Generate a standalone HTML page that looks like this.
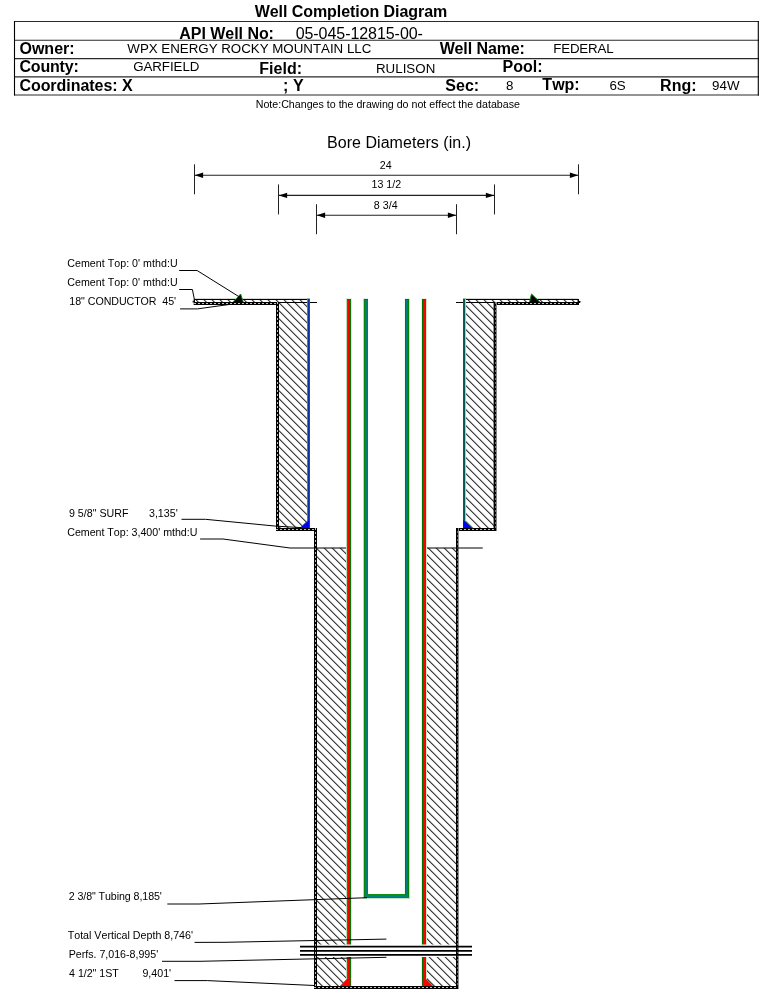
<!DOCTYPE html><html><head><meta charset="utf-8"><title>Well Completion Diagram</title>
<style>html,body{margin:0;padding:0;background:#fff;width:759px;height:989px;overflow:hidden}svg{display:block;font-family:"Liberation Sans", sans-serif;will-change:transform}</style></head><body>
<svg width="759" height="989" viewBox="0 0 759 989">
<defs><pattern id="h" patternUnits="userSpaceOnUse" x="0.3" y="0" width="8" height="8"><path d="M-2,-2 L10,10 M-2,6 L2,10 M6,-2 L10,2" stroke="#000" stroke-width="1" shape-rendering="crispEdges"/><path d="M-2,-2 L10,10 M-2,6 L2,10 M6,-2 L10,2" stroke="#000" stroke-width="1.2" stroke-opacity="0.45"/></pattern></defs>
<rect width="759" height="989" fill="#fff"/>
<text x="254.65 269.66 278.50 282.92 287.34 291.75 303.24 312.95 327.09 336.80 341.22 350.06 355.35 359.77 369.48 379.20 383.61 395.10 399.52 408.36 418.07 424.26 433.10" y="16.8" font-size="16" font-weight="bold" fill="#000" xml:space="preserve">Well Completion Diagram</text>
<line x1="14" y1="21.5" x2="759" y2="21.5" stroke="#2a2a2a" stroke-width="1.15"/>
<line x1="14" y1="40.2" x2="759" y2="40.2" stroke="#2a2a2a" stroke-width="1.15"/>
<line x1="14" y1="58.6" x2="759" y2="58.6" stroke="#2a2a2a" stroke-width="1.15"/>
<line x1="14" y1="76.8" x2="759" y2="76.8" stroke="#2a2a2a" stroke-width="1.15"/>
<line x1="14" y1="95.0" x2="759" y2="95.0" stroke="#2a2a2a" stroke-width="1.15"/>
<line x1="14.5" y1="21" x2="14.5" y2="95.5" stroke="#000" stroke-width="1.1"/>
<line x1="758.3" y1="21" x2="758.3" y2="95.5" stroke="#000" stroke-width="1.1"/>
<text x="179.33 190.82 201.43 205.85 210.27 225.28 234.13 238.55 242.97 247.39 258.88 268.59" y="38.6" font-size="16" font-weight="bold" fill="#000" xml:space="preserve">API Well No:</text>
<text x="295.65 304.49 313.33 318.62 327.46 336.30 345.14 350.43 359.27 368.11 376.94 385.78 394.62 399.91 408.75 417.59" y="38.6" font-size="16" fill="#000" xml:space="preserve">05-045-12815-00-</text>
<text x="19.48 31.93 44.37 54.14 63.04 69.27" y="53.6" font-size="16" font-weight="bold" fill="#000" xml:space="preserve">Owner:</text>
<text x="127.35 139.91 148.78 157.66 161.36 170.23 179.84 188.71 198.32 208.67 217.55 221.24 230.85 241.20 250.81 259.69 268.56 272.26 283.34 293.69 303.30 312.91 321.04 329.91 333.61 343.22 346.91 354.31 361.71" y="52.5" font-size="13.33" fill="#000" xml:space="preserve">WPX ENERGY ROCKY MOUNTAIN LLC</text>
<text x="439.65 454.55 463.33 467.72 472.11 476.49 487.89 496.68 510.71 519.50" y="53.6" font-size="16" font-weight="bold" fill="#000" xml:space="preserve">Well Name:</text>
<text x="553.13 561.14 569.89 579.36 588.10 597.57 606.32" y="52.5" font-size="13.33" fill="#000" xml:space="preserve">FEDERAL</text>
<text x="19.39 30.76 40.38 50.00 59.62 64.87 73.62" y="72" font-size="16" font-weight="bold" fill="#000" xml:space="preserve">County:</text>
<text x="133.14 143.44 152.28 161.85 169.94 173.62 182.46 189.83" y="71.4" font-size="13.33" fill="#000" xml:space="preserve">GARFIELD</text>
<text x="259.33 269.10 273.55 282.45 286.89 296.67" y="73.8" font-size="16" font-weight="bold" fill="#000" xml:space="preserve">Field:</text>
<text x="375.89 385.55 395.21 402.65 406.37 415.29 425.69" y="73" font-size="13.33" fill="#000" xml:space="preserve">RULISON</text>
<text x="502.50 513.17 522.95 532.72 537.16" y="72.2" font-size="16" font-weight="bold" fill="#000" xml:space="preserve">Pool:</text>
<text x="19.39 30.89 40.63 50.36 56.56 66.29 70.71 80.45 89.31 94.61 103.47 112.33 117.64 122.06" y="90.5" font-size="16" font-weight="bold" fill="#000" xml:space="preserve">Coordinates: X</text>
<text x="283.12 288.45 292.89" y="90.5" font-size="16" font-weight="bold" fill="#000" xml:space="preserve">; Y</text>
<text x="445.36 456.03 464.93 473.83" y="90.5" font-size="16" font-weight="bold" fill="#000" xml:space="preserve">Sec:</text>
<text x="506.05" y="89.5" font-size="13.33" fill="#000" xml:space="preserve">8</text>
<text x="542.37 552.14 564.59 574.36" y="90.3" font-size="16" font-weight="bold" fill="#000" xml:space="preserve">Twp:</text>
<text x="609.40 616.81" y="89.5" font-size="13.33" fill="#000" xml:space="preserve">6S</text>
<text x="660.09 671.64 681.42 691.19" y="90.5" font-size="16" font-weight="bold" fill="#000" xml:space="preserve">Rng:</text>
<text x="712.08 719.49 726.91" y="89.5" font-size="13.33" fill="#000" xml:space="preserve">94W</text>
<text x="255.70 263.40 269.32 272.28 278.21 281.17 288.87 294.79 300.72 306.65 312.57 318.50 323.83 326.79 329.75 335.68 338.64 341.60 347.52 353.45 356.41 362.34 365.89 371.81 379.51 381.88 387.80 393.73 396.69 402.62 408.54 411.50 417.43 423.36 426.32 429.28 435.20 438.17 441.13 447.05 452.38 455.34 458.30 461.26 467.19 473.12 476.08 482.00 487.93 490.89 496.82 502.74 508.67 514.00" y="108.4" font-size="10.67" fill="#000" xml:space="preserve">Note:Changes to the drawing do not effect the database</text>
<text x="327.00 337.74 346.69 352.05 361.00 365.47 377.10 380.67 389.62 403.03 411.98 416.46 425.41 430.77 438.82 443.29 448.65 452.22 461.18 465.65" y="147.5" font-size="16" fill="#000" xml:space="preserve">Bore Diameters (in.)</text>
<text x="379.74 385.67" y="169.1" font-size="10.67" fill="#000" xml:space="preserve">24</text>
<text x="371.52 377.45 383.39 386.35 392.28 395.25" y="188.3" font-size="10.67" fill="#000" xml:space="preserve">13 1/2</text>
<text x="373.86 379.80 382.76 388.70 391.66" y="209.2" font-size="10.67" fill="#000" xml:space="preserve">8 3/4</text>
<line x1="194.5" y1="164.3" x2="194.5" y2="194.3" stroke="#222" stroke-width="1.05"/>
<line x1="578.5" y1="164.3" x2="578.5" y2="194.3" stroke="#222" stroke-width="1.05"/>
<line x1="194.5" y1="175.3" x2="578.5" y2="175.3" stroke="#222" stroke-width="1.1"/>
<polygon points="194.8,175.3 203.1,172.60000000000002 203.1,178.0" fill="#000" stroke="none" stroke-width="1"/>
<polygon points="578.2,175.3 569.9,172.60000000000002 569.9,178.0" fill="#000" stroke="none" stroke-width="1"/>
<line x1="278.5" y1="184.4" x2="278.5" y2="214.4" stroke="#222" stroke-width="1.05"/>
<line x1="494.5" y1="184.4" x2="494.5" y2="214.4" stroke="#222" stroke-width="1.05"/>
<line x1="278.5" y1="195.4" x2="494.5" y2="195.4" stroke="#222" stroke-width="1.1"/>
<polygon points="278.8,195.4 287.1,192.70000000000002 287.1,198.1" fill="#000" stroke="none" stroke-width="1"/>
<polygon points="494.2,195.4 485.9,192.70000000000002 485.9,198.1" fill="#000" stroke="none" stroke-width="1"/>
<line x1="316.5" y1="204.2" x2="316.5" y2="234.2" stroke="#222" stroke-width="1.05"/>
<line x1="456.5" y1="204.2" x2="456.5" y2="234.2" stroke="#222" stroke-width="1.05"/>
<line x1="316.5" y1="215.2" x2="456.5" y2="215.2" stroke="#222" stroke-width="1.1"/>
<polygon points="316.8,215.2 325.1,212.5 325.1,217.89999999999998" fill="#000" stroke="none" stroke-width="1"/>
<polygon points="456.2,215.2 447.9,212.5 447.9,217.89999999999998" fill="#000" stroke="none" stroke-width="1"/>
<rect x="194" y="300" width="113" height="2" fill="url(#h)"/>
<rect x="466" y="300" width="112" height="2" fill="url(#h)"/>
<rect x="279" y="303" width="28" height="225" fill="url(#h)"/>
<rect x="466" y="303" width="28" height="225" fill="url(#h)"/>
<rect x="317" y="548" width="30" height="396.5" fill="url(#h)"/>
<rect x="317" y="957" width="30" height="29" fill="url(#h)"/>
<rect x="426" y="548" width="30" height="396.5" fill="url(#h)"/>
<rect x="426" y="957" width="30" height="29" fill="url(#h)"/>
<rect x="194" y="298" width="113" height="1" fill="#d8d8d8"/>
<rect x="466" y="298" width="112" height="1" fill="#d8d8d8"/>
<rect x="194" y="299" width="113" height="1" fill="#000"/>
<rect x="466" y="299" width="113" height="1" fill="#000"/>
<rect x="194" y="302" width="123" height="1" fill="#000"/>
<rect x="456" y="302" width="124" height="1" fill="#000"/>
<rect x="193.7" y="299" width="1.3" height="6" fill="#000"/>
<rect x="577.5" y="299" width="1.5" height="6" fill="#000"/>
<rect x="192.6" y="300.8" width="1.2" height="1.6" fill="#000"/>
<rect x="579" y="301" width="1.5" height="1.5" fill="#000"/>
<rect x="194" y="302" width="85" height="3" fill="#000"/>
<line x1="194" y1="303.5" x2="279" y2="303.5" stroke="#c0c0c0" stroke-width="1" stroke-dasharray="2 2" stroke-dashoffset="0" shape-rendering="crispEdges"/>
<rect x="494" y="302" width="84" height="3" fill="#000"/>
<line x1="494" y1="303.5" x2="578" y2="303.5" stroke="#c0c0c0" stroke-width="1" stroke-dasharray="2 2" stroke-dashoffset="0" shape-rendering="crispEdges"/>
<rect x="276" y="302" width="3" height="229" fill="#000"/>
<line x1="277.5" y1="302" x2="277.5" y2="531" stroke="#c0c0c0" stroke-width="1" stroke-dasharray="2 2" stroke-dashoffset="0" shape-rendering="crispEdges"/>
<rect x="276" y="528" width="41" height="3" fill="#000"/>
<line x1="276" y1="529.5" x2="317" y2="529.5" stroke="#c0c0c0" stroke-width="1" stroke-dasharray="2 2" stroke-dashoffset="0" shape-rendering="crispEdges"/>
<rect x="493" y="302" width="1" height="229" fill="#000" fill-opacity="0.4"/>
<rect x="494" y="302" width="2" height="229" fill="#000"/>
<line x1="495.5" y1="302" x2="495.5" y2="528" stroke="#707070" stroke-width="1" stroke-dasharray="2 2" stroke-dashoffset="0" shape-rendering="crispEdges"/>
<rect x="496" y="302" width="1" height="229" fill="#858585"/>
<rect x="456" y="528" width="40" height="3" fill="#000"/>
<line x1="456" y1="529.5" x2="496" y2="529.5" stroke="#c0c0c0" stroke-width="1" stroke-dasharray="2 2" stroke-dashoffset="0" shape-rendering="crispEdges"/>
<rect x="314" y="528" width="3" height="461" fill="#000"/>
<line x1="315.5" y1="528" x2="315.5" y2="989" stroke="#c0c0c0" stroke-width="1" stroke-dasharray="2 2" stroke-dashoffset="0" shape-rendering="crispEdges"/>
<rect x="314" y="986" width="145" height="3" fill="#000"/>
<line x1="314" y1="987.5" x2="459" y2="987.5" stroke="#c0c0c0" stroke-width="1" stroke-dasharray="2 2" stroke-dashoffset="0" shape-rendering="crispEdges"/>
<rect x="456" y="528" width="2" height="461" fill="#000"/>
<line x1="457.5" y1="531" x2="457.5" y2="986" stroke="#606060" stroke-width="1" stroke-dasharray="2 2" stroke-dashoffset="0" shape-rendering="crispEdges"/>
<rect x="458" y="528" width="1" height="461" fill="#909090"/>
<line x1="290" y1="548" x2="346" y2="548" stroke="#000" stroke-width="1.15"/>
<line x1="427" y1="548" x2="482.3" y2="548" stroke="#000" stroke-width="1.15" stroke-linecap="round"/>
<rect x="307" y="299" width="1" height="229" fill="#3a9a3a"/>
<rect x="308" y="299" width="1" height="229" fill="#0a30a0"/>
<rect x="309" y="299" width="1" height="229" fill="#007a10"/>
<rect x="307" y="298" width="3" height="1" fill="#8cc48c"/>
<rect x="463" y="299" width="1" height="229" fill="#007010"/>
<rect x="464" y="299" width="1" height="229" fill="#005858"/>
<rect x="465" y="299" width="1" height="229" fill="#a0d8a0"/>
<rect x="463" y="298" width="3" height="1" fill="#8cc48c"/>
<polygon points="308.0,520.6 309.3,520.6 309.3,528 299.8,528" fill="#0000ff" stroke="none" stroke-width="1"/>
<line x1="308.0" y1="520.6" x2="299.8" y2="528" stroke="#2a9a2a" stroke-width="0.8"/>
<polygon points="463.2,520.6 464.6,520.6 472.6,528 463.2,528" fill="#0000ff" stroke="none" stroke-width="1"/>
<line x1="464.6" y1="520.6" x2="472.6" y2="528" stroke="#2a9a2a" stroke-width="0.8"/>
<rect x="346" y="299" width="1" height="645.5" fill="#b4deb4"/>
<rect x="347" y="299" width="1" height="645.5" fill="#6a5a10"/>
<rect x="348" y="299" width="1" height="645.5" fill="#ff0000"/>
<rect x="349" y="299" width="1" height="645.5" fill="#f20000"/>
<rect x="350" y="299" width="1" height="645.5" fill="#007a00"/>
<rect x="351" y="299" width="1" height="645.5" fill="#dcf0dc"/>
<rect x="347" y="299" width="4" height="1" fill="#007800"/>
<rect x="421" y="299" width="1" height="645.5" fill="#e8f0e8"/>
<rect x="422" y="299" width="1" height="645.5" fill="#007000"/>
<rect x="423" y="299" width="1" height="645.5" fill="#ff0000"/>
<rect x="424" y="299" width="1" height="645.5" fill="#ff0000"/>
<rect x="425" y="299" width="1" height="645.5" fill="#008000"/>
<rect x="426" y="299" width="1" height="645.5" fill="#c4e8c4"/>
<rect x="422" y="299" width="4" height="1" fill="#007800"/>
<rect x="346" y="298" width="6" height="1" fill="#e4f2e4"/>
<rect x="421" y="298" width="6" height="1" fill="#e4f2e4"/>
<rect x="346" y="957" width="1" height="29" fill="#b4deb4"/>
<rect x="347" y="957" width="1" height="29" fill="#6a5a10"/>
<rect x="348" y="957" width="1" height="29" fill="#ff0000"/>
<rect x="349" y="957" width="1" height="29" fill="#f20000"/>
<rect x="350" y="957" width="1" height="29" fill="#007a00"/>
<rect x="351" y="957" width="1" height="29" fill="#dcf0dc"/>
<rect x="421" y="957" width="1" height="29" fill="#e8f0e8"/>
<rect x="422" y="957" width="1" height="29" fill="#007000"/>
<rect x="423" y="957" width="1" height="29" fill="#ff0000"/>
<rect x="424" y="957" width="1" height="29" fill="#ff0000"/>
<rect x="425" y="957" width="1" height="29" fill="#008000"/>
<rect x="426" y="957" width="1" height="29" fill="#c4e8c4"/>
<polygon points="347.6,978.3 350.2,978.3 350.2,986 340.3,986" fill="#ff0000" stroke="none" stroke-width="1"/>
<line x1="347.6" y1="978.3" x2="340.3" y2="986" stroke="#2a9a2a" stroke-width="0.8"/>
<polygon points="422.8,978.6 425.4,978.6 432.8,986 422.8,986" fill="#ff0000" stroke="none" stroke-width="1"/>
<line x1="425.4" y1="978.6" x2="432.8" y2="986" stroke="#2a9a2a" stroke-width="0.8"/>
<rect x="363" y="299" width="1" height="599" fill="#b0dcb0"/>
<rect x="364" y="299" width="1" height="599" fill="#108010"/>
<rect x="365" y="299" width="1" height="599" fill="#008080"/>
<rect x="366" y="299" width="1" height="599" fill="#007f70"/>
<rect x="367" y="299" width="1" height="599" fill="#108810"/>
<rect x="404" y="299" width="1" height="599" fill="#f0f8f0"/>
<rect x="405" y="299" width="1" height="599" fill="#008000"/>
<rect x="406" y="299" width="1" height="599" fill="#008080"/>
<rect x="407" y="299" width="1" height="599" fill="#007a80"/>
<rect x="408" y="299" width="1" height="599" fill="#008000"/>
<rect x="409" y="299" width="1" height="599" fill="#c0e0c0"/>
<rect x="363" y="298" width="5" height="1" fill="#e0f0e0"/>
<rect x="405" y="298" width="4" height="1" fill="#e0f0e0"/>
<rect x="364" y="299" width="4" height="1" fill="#007800"/>
<rect x="405" y="299" width="4" height="1" fill="#007800"/>
<rect x="367" y="894" width="38" height="1" fill="#109010"/>
<rect x="365" y="895" width="43" height="2" fill="#008080"/>
<rect x="364" y="897" width="45" height="1" fill="#108810"/>
<rect x="363" y="898" width="47" height="1" fill="#c0e4c0"/>
<line x1="300" y1="946.6" x2="472" y2="946.6" stroke="#000" stroke-width="1.8"/>
<line x1="300" y1="950.8" x2="472" y2="950.8" stroke="#000" stroke-width="1.8"/>
<line x1="300" y1="954.8" x2="472" y2="954.8" stroke="#000" stroke-width="1.8"/>
<polygon points="240.6,294.0 243.2,302 233.2,302" fill="#000" stroke="none" stroke-width="1"/>
<polyline points="233.2,302 240.6,294.0 243.2,302" fill="none" stroke="#0a7f0a" stroke-width="1.0"/>
<polygon points="531.5,294.0 539.8,302 529.6,302" fill="#000" stroke="none" stroke-width="1"/>
<polyline points="529.6,302 531.5,294.0 539.8,302" fill="none" stroke="#0a7f0a" stroke-width="1.0"/>
<text x="67.22 74.96 80.91 89.84 95.80 101.75 104.73 107.71 114.25 120.21 126.17 129.14 132.12 138.08 140.12 143.10 152.02 155.00 160.96 166.91 169.89" y="266.6" font-size="10.67" fill="#000" xml:space="preserve">Cement Top: 0' mthd:U</text>
<text x="67.22 74.96 80.91 89.84 95.80 101.75 104.73 107.71 114.25 120.21 126.17 129.14 132.12 138.08 140.12 143.10 152.02 155.00 160.96 166.91 169.89" y="285.6" font-size="10.67" fill="#000" xml:space="preserve">Cement Top: 0' mthd:U</text>
<text x="69.35 75.23 81.10 84.85 87.79 95.42 103.64 111.27 118.90 126.53 134.16 140.61 148.83 156.46 159.39 162.33 168.21 174.08" y="304.8" font-size="10.67" fill="#000" xml:space="preserve">18&quot; CONDUCTOR  45'</text>
<text x="68.96 74.89 77.85 83.78 86.75 92.68 96.46 99.43 106.54 114.24 121.94" y="516.6" font-size="10.67" fill="#000" xml:space="preserve">9 5/8&quot; SURF</text>
<text x="148.95 154.88 157.85 163.78 169.72 175.65" y="516.6" font-size="10.67" fill="#000" xml:space="preserve">3,135'</text>
<text x="67.22 74.89 80.80 89.65 95.56 101.47 104.42 107.37 113.86 119.77 125.68 128.63 131.58 137.49 140.45 146.35 152.26 158.17 160.20 163.15 172.00 174.95 180.86 186.77 189.72" y="535.6" font-size="10.67" fill="#000" xml:space="preserve">Cement Top: 3,400' mthd:U</text>
<text x="68.65 74.48 77.40 83.23 86.14 91.98 95.70 98.61 105.02 110.85 116.69 119.02 124.85 130.68 133.60 139.43 142.34 148.18 154.01 159.84" y="900.1" font-size="10.67" fill="#000" xml:space="preserve">2 3/8&quot; Tubing 8,185'</text>
<text x="67.69 74.20 80.13 83.10 89.03 91.39 94.36 101.47 107.40 110.95 113.91 116.28 121.61 127.54 129.91 132.87 140.57 146.50 152.43 155.40 161.33 164.29 170.22 173.18 179.11 185.04 190.97" y="938.7" font-size="10.67" fill="#000" xml:space="preserve">Total Vertical Depth 8,746'</text>
<text x="68.67 75.76 81.68 85.22 88.18 93.49 96.45 99.40 105.32 108.27 114.19 120.10 126.02 129.56 135.47 138.43 144.34 150.26 156.17" y="957.8" font-size="10.67" fill="#000" xml:space="preserve">Perfs. 7,016-8,995'</text>
<text x="69.10 74.98 77.91 83.79 86.73 92.61 96.36 99.29 105.17 112.22" y="976.9" font-size="10.67" fill="#000" xml:space="preserve">4 1/2&quot; 1ST</text>
<text x="142.39 148.32 151.29 157.22 163.16 169.09" y="976.9" font-size="10.67" fill="#000" xml:space="preserve">9,401'</text>
<polyline points="179.2,270.5 197.1,270.5 238.7,296.5" fill="none" stroke="#000" stroke-width="1.0"/>
<polyline points="179.2,289.5 192.4,289.5 194.4,299.5" fill="none" stroke="#000" stroke-width="1.0"/>
<polyline points="180.1,308.9 197.4,308.9 229,304.5" fill="none" stroke="#000" stroke-width="1.0"/>
<polyline points="181.5,519.3 205.4,519.3 276.5,526.2 301,527.6" fill="none" stroke="#000" stroke-width="1.0"/>
<polyline points="200.1,539.0 223,539.0 290,548" fill="none" stroke="#000" stroke-width="1.0"/>
<polyline points="167.3,904.0 199,904.0 367,897.7" fill="none" stroke="#000" stroke-width="1.0"/>
<polyline points="194.5,942.4 225,942.3 386.4,939.1" fill="none" stroke="#000" stroke-width="1.0"/>
<polyline points="162,961.3 200,961.3 386.4,957.3" fill="none" stroke="#000" stroke-width="1.0"/>
<polyline points="174.5,980.6 207.3,980.6 314.5,985.5" fill="none" stroke="#000" stroke-width="1.0"/>
</svg></body></html>
